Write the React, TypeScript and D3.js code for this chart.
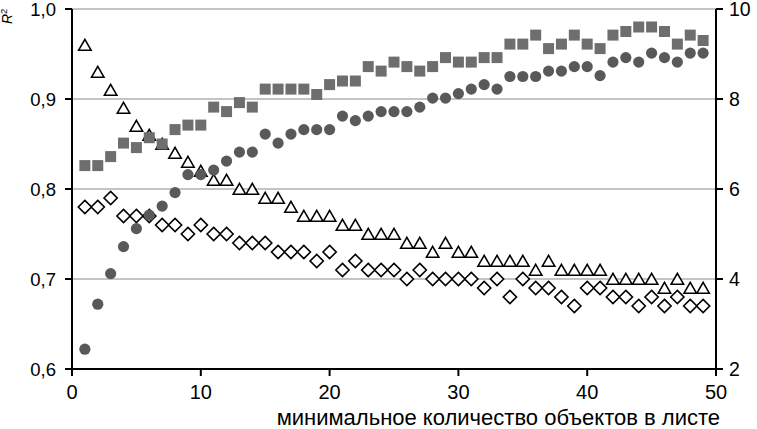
import React from 'react';
import * as d3 from 'd3';

const leafMin = [1,2,3,4,5,6,7,8,9,10,11,12,13,14,15,16,17,18,19,20,21,22,23,24,25,26,27,28,29,30,31,32,33,34,35,36,37,38,39,40,41,42,43,44,45,46,47,48,49];

// R² series (left axis)
const r2Squares = [0.826,0.826,0.836,0.851,0.846,0.857,0.850,0.866,0.871,0.871,0.891,0.886,0.896,0.891,0.911,0.911,0.911,0.911,0.905,0.916,0.920,0.920,0.936,0.931,0.941,0.936,0.931,0.936,0.946,0.941,0.941,0.946,0.946,0.961,0.961,0.971,0.956,0.961,0.971,0.961,0.956,0.971,0.975,0.980,0.980,0.975,0.961,0.971,0.965];
const r2Circles = [0.622,0.672,0.706,0.736,0.756,0.771,0.781,0.796,0.816,0.816,0.821,0.831,0.841,0.841,0.861,0.851,0.861,0.866,0.866,0.866,0.881,0.876,0.881,0.886,0.886,0.886,0.891,0.901,0.901,0.906,0.911,0.916,0.911,0.925,0.925,0.925,0.931,0.931,0.936,0.936,0.926,0.941,0.946,0.941,0.951,0.946,0.941,0.951,0.951];

// right axis series
const triangles = [9.2,8.6,8.2,7.8,7.4,7.2,7.0,6.8,6.6,6.4,6.2,6.2,6.0,6.0,5.8,5.8,5.6,5.4,5.4,5.4,5.2,5.2,5.0,5.0,5.0,4.8,4.8,4.6,4.8,4.6,4.6,4.4,4.4,4.4,4.4,4.2,4.4,4.2,4.2,4.2,4.2,4.0,4.0,4.0,4.0,3.8,4.0,3.8,3.8];
const diamonds = [5.6,5.6,5.8,5.4,5.4,5.4,5.2,5.2,5.0,5.2,5.0,5.0,4.8,4.8,4.8,4.6,4.6,4.6,4.4,4.6,4.2,4.4,4.2,4.2,4.2,4.0,4.2,4.0,4.0,4.0,4.0,3.8,4.0,3.6,4.0,3.8,3.8,3.6,3.4,3.8,3.8,3.6,3.6,3.4,3.6,3.4,3.6,3.4,3.4];

const leftTicks = [0.6,0.7,0.8,0.9,1.0];
const rightTicks = [2,4,6,8,10];
const xTicks = [0,10,20,30,40,50];
const gridTicks = [0.7,0.8,0.9,1.0];

const xTitle = 'минимальное количество объектов в листе';

export default function App() {
  const W = 757, H = 429;
  const x = d3.scaleLinear().domain([0, 50]).range([72, 716]);
  const yL = d3.scaleLinear().domain([0.6, 1.0]).range([369, 9]);
  const yR = d3.scaleLinear().domain([2, 10]).range([369, 9]);
  const fmtL = (v: number) => d3.format('.1f')(v).replace('.', ',');
  const font = 'Liberation Sans, Arial, sans-serif';

  const sq = 'M-5.5,-5.5H5.5V5.5H-5.5Z';
  const tri = 'M0,-5.6L6.2,5.2L-6.2,5.2Z';
  const dia = 'M0,-6.6L6.6,0L0,6.6L-6.6,0Z';

  return (
    <svg width={W} height={H} style={{ position: 'absolute', left: 0, top: 0, background: '#fff' }}>
      <rect x={0} y={0} width={W} height={H} fill="#fff" />
      {gridTicks.map((t) => (
        <line key={'g' + t} x1={x(0)} x2={x(50)} y1={yL(t)} y2={yL(t)} stroke="#8a8a8a" strokeWidth={1.2} />
      ))}
      {/* axes */}
      <line x1={x(0)} x2={x(50)} y1={yL(0.6)} y2={yL(0.6)} stroke="#000" strokeWidth={2} />
      <line x1={x(0)} x2={x(0)} y1={yL(0.6) + 1} y2={yL(1.0)} stroke="#000" strokeWidth={2} />
      <line x1={x(50)} x2={x(50)} y1={yL(0.6) + 1} y2={yL(1.0)} stroke="#000" strokeWidth={2} />
      {leftTicks.map((t) => (
        <g key={'l' + t}>
          <line x1={x(0) - 7} x2={x(0)} y1={yL(t)} y2={yL(t)} stroke="#000" strokeWidth={2} />
          <text x={56} y={yL(t)} dy="0.36em" textAnchor="end" fontFamily={font} fontSize={18.5} fill="#000">{fmtL(t)}</text>
        </g>
      ))}
      {rightTicks.map((t) => (
        <g key={'r' + t}>
          <line x1={x(50)} x2={x(50) + 7} y1={yR(t)} y2={yR(t)} stroke="#000" strokeWidth={2} />
          <text x={729} y={yR(t)} dy="0.36em" textAnchor="start" fontFamily={font} fontSize={19.5} fill="#000">{t}</text>
        </g>
      ))}
      {xTicks.map((t) => (
        <g key={'x' + t}>
          <line x1={x(t)} x2={x(t)} y1={yL(0.6)} y2={yL(0.6) + 7} stroke="#000" strokeWidth={2} />
          <text x={x(t)} y={399} textAnchor="middle" fontFamily={font} fontSize={20} fill="#000">{t}</text>
        </g>
      ))}
      <text x={720} y={425} textAnchor="end" fontFamily={font} fontSize={22} fill="#000">{xTitle}</text>
      <text transform="translate(12,24) rotate(-90)" fontFamily={font} fontSize={14} fill="#000">
        <tspan fontStyle="italic">R</tspan>
        <tspan fontSize={9.5} dy={-5}>2</tspan>
      </text>
      {/* open markers */}
      {leafMin.map((k, i) => (
        <path key={'d' + k} d={dia} transform={`translate(${x(k)},${yR(diamonds[i])})`} fill="#fff" stroke="#000" strokeWidth={1.6} />
      ))}
      {leafMin.map((k, i) => (
        <path key={'t' + k} d={tri} transform={`translate(${x(k)},${yR(triangles[i])})`} fill="#fff" stroke="#000" strokeWidth={1.6} />
      ))}
      {leafMin.map((k, i) => (
        <path key={'s' + k} d={sq} transform={`translate(${x(k)},${yL(r2Squares[i])})`} fill="#6e6e6e" />
      ))}
      {leafMin.map((k, i) => (
        <circle key={'c' + k} cx={x(k)} cy={yL(r2Circles[i])} r={5.6} fill="#595959" />
      ))}
    </svg>
  );
}
